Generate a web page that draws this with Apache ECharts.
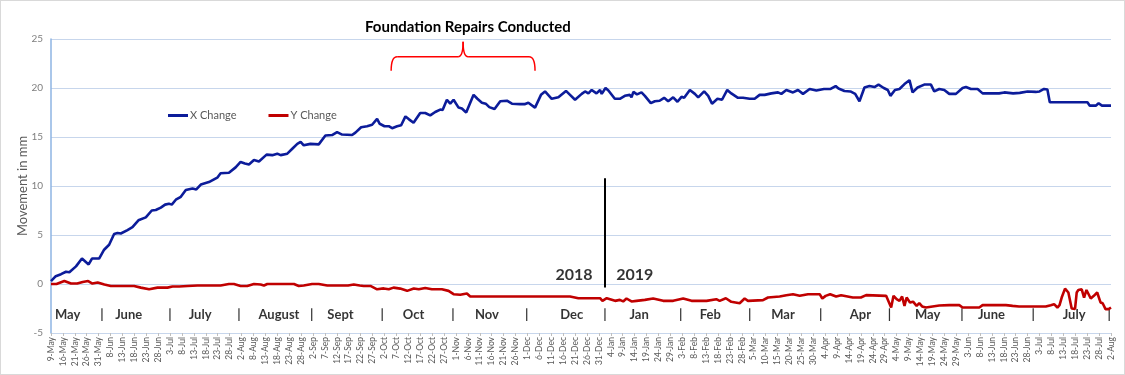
<!DOCTYPE html>
<html>
<head>
<meta charset="utf-8">
<script src="https://cdn.jsdelivr.net/npm/echarts@6/dist/echarts.min.js"></script>
<style>
  html, body { margin: 0; padding: 0; background: #fff; }
  #chart { width: 1123px; height: 373px; border: 1px solid #d9d9d9; }
</style>
</head>
<body>
<div id="chart"></div>
<script>
// tick labels, one every 5 readings
var tickLabels = ['9-May', '16-May', '21-May', '26-May', '31-May', '8-Jun', '13-Jun', '18-Jun', '23-Jun', '28-Jun',
    '3-Jul', '8-Jul', '13-Jul', '18-Jul', '23-Jul', '28-Jul', '2-Aug', '8-Aug', '13-Aug', '18-Aug',
    '23-Aug', '28-Aug', '2-Sep', '7-Sep', '12-Sep', '17-Sep', '22-Sep', '27-Sep', '2-Oct', '7-Oct',
    '12-Oct', '17-Oct', '22-Oct', '27-Oct', '1-Nov', '6-Nov', '11-Nov', '16-Nov', '21-Nov', '26-Nov',
    '1-Dec', '6-Dec', '11-Dec', '16-Dec', '21-Dec', '26-Dec', '31-Dec', '4-Jan', '9-Jan', '14-Jan',
    '19-Jan', '24-Jan', '29-Jan', '3-Feb', '8-Feb', '13-Feb', '18-Feb', '23-Feb', '28-Feb', '5-Mar',
    '10-Mar', '15-Mar', '20-Mar', '25-Mar', '30-Mar', '4-Apr', '9-Apr', '14-Apr', '19-Apr', '24-Apr',
    '29-Apr', '4-May', '9-May', '14-May', '19-May', '24-May', '29-May', '3-Jun', '8-Jun', '13-Jun',
    '18-Jun', '23-Jun', '28-Jun', '3-Jul', '8-Jul', '13-Jul', '18-Jul', '23-Jul', '28-Jul', '2-Aug'];

// [reading index, mm]
var xChange = [[0,0.3],[2,0.8],[4.2,1.0],[6.3,1.25],[7.7,1.2],[10.5,1.8],[13,2.6],[15.8,2.0],[17.2,2.6],[20.2,2.6],
    [22.3,3.5],[24.4,4.0],[26.5,5.1],[27.9,5.2],[29.3,5.15],[32.1,5.5],[34.2,5.8],[36.7,6.5],[39.8,6.8],[42.3,7.5],
    [44,7.55],[46.1,7.8],[47.9,8.1],[49.5,8.2],[50.7,8.1],[52.4,8.6],[54.5,8.9],[56.6,9.6],[59.4,9.75],[61,9.65],
    [62.9,10.15],[66.3,10.4],[69.8,10.85],[71.2,11.3],[74.7,11.35],[77.5,11.9],[79.6,12.45],[81.4,12.3],[82.1,12.5],[83.1,12.2],
    [85.2,12.65],[87.3,12.5],[90.5,13.2],[92.9,13.15],[95,13.3],[96.4,13.15],[99.2,13.3],[101.3,13.8],[103.4,14.3],[104.8,14.5],
    [106.1,14.15],[108.9,14.3],[112.4,14.25],[115.2,15.15],[118,15.2],[120.1,15.5],[122.2,15.25],[126.4,15.2],[127.8,15.45],[130.2,16.0],
    [132.7,16.1],[134.8,16.25],[136.9,16.85],[138,16.35],[140,16.1],[141.8,16.1],[143.2,15.9],[145.3,16.1],[147,16.2],[148.8,17.1],
    [150.3,16.8],[152.2,16.45],[155,17.45],[157.1,17.45],[159.2,17.2],[161.3,17.55],[163.4,17.8],[164.4,17.75],[166.2,18.8],[167.6,18.4],
    [169,18.8],[171.1,18.0],[172.5,17.9],[174.3,17.5],[177.4,19.3],[179,18.9],[180.9,18.5],[182.5,18.4],[184,18.05],[186.2,17.85],
    [188.6,18.65],[191.4,18.7],[193.5,18.4],[196.9,18.35],[198.8,18.35],[200.4,18.5],[203.2,18.0],[205.7,19.3],[207.4,19.65],[210.2,18.9],
    [213,19.05],[216.2,19.7],[217.9,19.3],[220,18.8],[222.8,19.4],[224.2,19.65],[225.6,19.45],[227,19.8],[229,19.45],[230.5,19.8],
    [231.2,19.4],[232.8,20.0],[234,19.75],[236.7,18.9],[238.8,18.9],[240.9,19.2],[243,19.3],[243.7,19.05],[244.5,19.6],[246,19.35],
    [247.9,19.55],[249.3,19.2],[251.8,18.45],[253.5,18.65],[255.5,18.7],[257.4,19.0],[259.1,18.65],[261.2,19.05],[263,18.6],[264.7,19.1],
    [265.8,19.0],[268.2,19.8],[270.3,19.4],[271.7,19.05],[274.2,19.65],[275.9,19.2],[277.5,18.4],[279.8,18.9],[281.7,18.8],[283.9,19.8],
    [285.6,19.45],[288.4,19.0],[290.5,19.0],[293.3,18.9],[295.4,18.9],[297.5,19.3],[299.6,19.3],[302.4,19.45],[305.2,19.55],[306.6,19.4],
    [308.7,19.8],[311.5,19.55],[313.6,19.8],[315.7,19.4],[318.5,19.9],[321.3,19.75],[324.5,19.9],[327.3,19.9],[329.4,20.2],[330.6,19.95],
    [333.1,19.7],[335.6,19.65],[337.6,19.4],[339.4,18.65],[341.5,20.05],[343.6,20.2],[345.7,20.1],[347.4,20.35],[349.6,20.0],[351.3,19.8],
    [352.4,19.2],[354.3,19.8],[356.2,19.9],[358.3,20.4],[360.4,20.8],[361.7,19.55],[363.8,20.05],[366.6,20.35],[369.4,20.35],[370.8,19.65],
    [372.9,19.9],[375,19.8],[377.1,19.4],[379.9,19.4],[382.7,20.0],[384.1,20.1],[386.2,19.9],[389,19.9],[391.1,19.45],[394.6,19.45],
    [398,19.45],[400.2,19.55],[403.9,19.45],[406.7,19.5],[410,19.65],[413.4,19.6],[415,19.65],[416.9,19.9],[418.3,19.85],[419.3,18.55],
    [435.1,18.55],[436.1,18.2],[438.6,18.2],[439.8,18.45],[441.2,18.2],[445,18.2]];

var yChange = [[0,0],[2.3,0],[5.6,0.3],[8.4,0.05],[11,0.05],[13.3,0.2],[15.6,0.3],[17.4,0.05],[19.6,0.15],[22.4,-0.05],
    [25.1,-0.2],[34.9,-0.2],[37.7,-0.37],[41.2,-0.54],[44.7,-0.37],[48.9,-0.37],[51,-0.25],[53.8,-0.25],[57.3,-0.2],[61.5,-0.15],
    [65.7,-0.15],[71.2,-0.15],[72,-0.25],[74.7,0],[76.8,0],[79.6,-0.2],[82.4,-0.2],[85.2,0],[88,-0.05],[89.4,-0.15],
    [90.8,0],[95,0],[102,0],[104,-0.2],[106.1,-0.15],[109.6,0],[112.4,0],[116,-0.15],[124.7,-0.15],[127.1,-0.05],
    [129.6,-0.15],[131.3,-0.2],[134.1,-0.2],[136.9,-0.54],[139.7,-0.45],[141.8,-0.54],[143.8,-0.37],[146.6,-0.47],[149.5,-0.7],[152.3,-0.45],
    [154.4,-0.54],[157.1,-0.4],[159.9,-0.54],[164.1,-0.54],[166.9,-0.7],[169,-1.04],[171.8,-1.1],[174.6,-0.97],[176,-1.28],[184.4,-1.28],
    [217.9,-1.28],[221.4,-1.45],[230.5,-1.45],[231.5,-1.72],[233.3,-1.45],[234.7,-1.55],[236.8,-1.72],[238.8,-1.62],[240.2,-1.78],[241.6,-1.48],
    [243.7,-1.78],[245.8,-1.72],[249.3,-1.62],[252.8,-1.48],[257,-1.72],[261.2,-1.72],[265.4,-1.48],[268.9,-1.72],[275.2,-1.72],[279.3,-1.55],
    [280.7,-1.72],[283.3,-1.45],[285.6,-1.82],[289.1,-1.96],[291.2,-1.48],[292.6,-1.72],[298.9,-1.65],[301,-1.38],[305.9,-1.28],[308.7,-1.14],
    [311.5,-1.04],[314.3,-1.2],[317.8,-1.04],[322.7,-1.04],[323.8,-1.48],[325.2,-1.21],[327.1,-1.04],[329.6,-1.28],[331.7,-1.14],[336.6,-1.38],
    [340,-1.38],[342.2,-1.14],[350.6,-1.21],[352.7,-2.4],[353.7,-1.21],[355,-1.55],[356.2,-1.72],[357.3,-1.28],[358.3,-2.23],[359.2,-1.38],
    [360.6,-1.88],[361.9,-1.8],[363.4,-2.23],[364.5,-1.96],[365.7,-2.29],[367.3,-2.4],[370.1,-2.29],[372.9,-2.2],[377.1,-2.16],[381.3,-2.16],
    [382.7,-2.4],[389.7,-2.4],[391.1,-2.16],[400.9,-2.16],[403.7,-2.23],[406.4,-2.29],[417.6,-2.29],[419.7,-2.16],[421.1,-2.06],[422.5,-2.4],
    [423.4,-2.16],[424.3,-1.38],[425.7,-0.47],[427.1,-0.87],[428.5,-2.5],[429.9,-2.55],[430.6,-0.87],[431.3,-0.61],[432.7,-0.54],[433.7,-1.38],
    [434.7,-0.61],[436.5,-1.48],[437.8,-1.21],[439.2,-0.87],[440.6,-1.88],[441.5,-1.96],[442.7,-2.56],[444,-2.56],[445,-2.4]];

// month names and separators written inside the plot, placed on the reading index
var monthText = ['May', '|', 'June', '|', 'July', '|', 'August', '|', 'Sept', '|', 'Oct', '|', 'Nov', '|', 'Dec', '|',
    'Jan', '|', 'Feb', '|', 'Mar', '|', 'Apr', '|', 'May', '|', 'June', '|', 'July', '|'];
var monthAt = [7, 21.4, 32.6, 49.9, 62.6, 78.9, 95.7, 109.4, 121.5, 139, 152.2, 168.7, 183, 199.7, 218.6, 232.6,
    246.9, 264.4, 276.8, 293.3, 307.3, 323.1, 339.8, 352, 368, 382.4, 394.8, 412.3, 429.5, 444.2];
var monthLevel = -3.1;

var years = ['2018', '2019'];
var yearAt = [219.6, 245.1];
var yearLevel = 0.95;
var yearSplit = 232.3;

var repairTitle = 'Foundation Repairs Conducted';
var repairFrom = 142.8, repairTo = 203.2;

var font = 'Lato, "Open Sans", sans-serif';

var chart = echarts.init(document.getElementById('chart'));

var option = {
    animation: false,
    title: {
        text: repairTitle,
        left: 359,
        top: 14,
        textStyle: { fontFamily: font, fontSize: 15, fontWeight: 'bold', color: '#000' }
    },
    legend: {
        data: ['X Change', 'Y Change'],
        left: 162,
        top: 104,
        icon: 'rect',
        itemWidth: 20,
        itemHeight: 3,
        itemGap: 32,
        textStyle: { fontFamily: font, fontSize: 11, color: '#595959', padding: [0, 0, 0, -3] }
    },
    grid: { left: 50, right: 13, top: 38, bottom: 41 },
    xAxis: {
        type: 'value',
        min: 0,
        max: 445,
        interval: 5,
        splitLine: { show: false },
        axisLine: { show: true, onZero: false, lineStyle: { color: '#c7d6ec' } },
        axisTick: { show: true, length: 3, lineStyle: { color: '#bfbfbf' } },
        axisLabel: {
            rotate: 90,
            fontFamily: font,
            fontSize: 8.5,
            color: '#595959',
            margin: 4,
            formatter: function (v) { return tickLabels[Math.round(v / 5)] || ''; }
        }
    },
    yAxis: {
        type: 'value',
        min: -5,
        max: 25,
        interval: 5,
        name: 'Movement in mm',
        nameLocation: 'middle',
        nameGap: 22,
        nameMoveOverlap: false,
        nameTextStyle: { fontFamily: font, fontSize: 13, color: '#595959' },
        axisLine: { show: true, onZero: false, lineStyle: { color: '#8eb4e3', width: 1.5 } },
        axisTick: { show: false },
        axisLabel: { fontFamily: font, fontSize: 10, color: '#7f7f7f', margin: 8 },
        splitLine: { lineStyle: { color: '#c7d6ec', width: 1 } }
    },
    series: [{
        name: 'X Change',
        type: 'line',
        showSymbol: false,
        data: xChange,
        itemStyle: { color: '#0c1c9a' },
        lineStyle: { color: '#0c1c9a', width: 2.6 },
        z: 3
    }, {
        name: 'Y Change',
        type: 'line',
        showSymbol: false,
        data: yChange,
        itemStyle: { color: '#c00000' },
        lineStyle: { color: '#c00000', width: 2.6 },
        z: 3,
        markLine: {
            silent: true,
            symbol: 'none',
            label: { show: false },
            lineStyle: { color: '#000', width: 2, type: 'solid' },
            data: [[{ coord: [yearSplit, 10.8] }, { coord: [yearSplit, -0.35] }]]
        }
    }, {
        name: 'months',
        type: 'scatter',
        symbolSize: 0,
        silent: true,
        data: monthAt.map(function (p, i) { return { value: [p, monthLevel], name: monthText[i] }; }),
        label: {
            show: true,
            position: 'inside',
            formatter: '{b}',
            fontFamily: font,
            fontSize: 13,
            fontWeight: 'bold',
            color: '#000'
        }
    }, {
        name: 'years',
        type: 'scatter',
        symbolSize: 0,
        silent: true,
        data: yearAt.map(function (p, i) { return { value: [p, yearLevel], name: years[i] }; }),
        label: {
            show: true,
            position: 'inside',
            formatter: '{b}',
            fontFamily: font,
            fontSize: 16,
            fontWeight: 'bold',
            color: '#000'
        }
    }]
};

chart.setOption(option);

// red curly bracket over the repair period
function drawBracket() {
    var a = chart.convertToPixel({ gridIndex: 0 }, [repairFrom, 21.75]);
    var b = chart.convertToPixel({ gridIndex: 0 }, [repairTo, 21.75]);
    var mid = (a[0] + b[0]) / 2;
    var yBar = a[1] - 14;
    var yTip = a[1] - 29;
    var style = { fill: null, stroke: '#ff0000', lineWidth: 1.5 };
    function curve(x1, y1, cx, cy, x2, y2) {
        return { type: 'bezierCurve', silent: true, style: style,
            shape: { x1: x1, y1: y1, cpx1: cx, cpy1: cy, x2: x2, y2: y2 } };
    }
    function line(x1, y1, x2, y2) {
        return { type: 'line', silent: true, style: style,
            shape: { x1: x1, y1: y1, x2: x2, y2: y2 } };
    }
    chart.setOption({
        graphic: [{
            type: 'group',
            children: [
                curve(a[0], a[1], a[0], yBar, a[0] + 6, yBar),
                line(a[0] + 6, yBar, mid - 5, yBar),
                curve(mid - 5, yBar, mid, yBar, mid, yTip),
                curve(mid, yTip, mid, yBar, mid + 5, yBar),
                line(mid + 5, yBar, b[0] - 6, yBar),
                curve(b[0] - 6, yBar, b[0], yBar, b[0], b[1])
            ]
        }]
    });
}
drawBracket();
</script>
</body>
</html>
